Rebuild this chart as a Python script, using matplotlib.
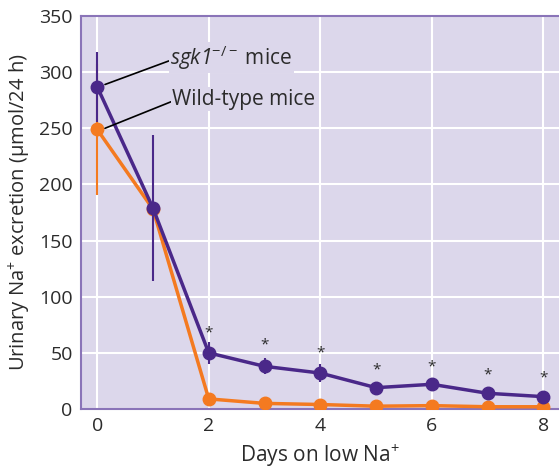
import matplotlib.pyplot as plt
import numpy as np

plt.rcParams['font.family'] = ['Open Sans', 'DejaVu Sans']
plt.rcParams['mathtext.fontset'] = 'custom'
plt.rcParams['mathtext.rm'] = 'Open Sans'
plt.rcParams['mathtext.it'] = 'Open Sans:italic'
plt.rcParams['mathtext.sf'] = 'Open Sans:italic'

days = [0, 1, 2, 3, 4, 5, 6, 7, 8]
sgk1 = [287, 179, 50, 38, 32, 19, 22, 14, 11]
sgk1_err = [31, 65, 10, 7, 8, 3, 3, 2, 2]
wt = [249, 178, 9, 5, 4, 2.5, 3, 2, 2]
wt_err = [58, 3, 1, 1, 1, 1, 1, 1, 1]
star_days = [2, 3, 4, 5, 6, 7, 8]
star_y = [68, 57, 50, 35, 37, 30, 28]

purple = '#4a2889'
orange = '#f47a20'
bg = '#dcd7eb'
spine = '#8a74b8'
txt = '#2b2b2b'

fig = plt.figure(figsize=(5.59, 4.70), dpi=100)
ax = fig.add_axes([81 / 559, 61 / 470, 1 - 81 / 559, 393 / 470])
ax.set_facecolor(bg)

ax.errorbar(days, wt, yerr=wt_err, color=orange, lw=2.5, marker='o', ms=9,
            elinewidth=1.5, capsize=0, zorder=3)
ax.errorbar(days, sgk1, yerr=sgk1_err, color=purple, lw=2.5, marker='o', ms=9,
            elinewidth=1.5, capsize=0, zorder=4)

for d, s in zip(star_days, star_y):
    ax.text(d, s, '*', ha='center', va='center', fontsize=11, color=txt)

ax.set_xlim(-0.29, 8.28)
ax.set_ylim(0, 350)
ax.set_xticks([0, 2, 4, 6, 8])
ax.set_yticks(range(0, 351, 50))
ax.grid(True, color='white', lw=1.5)
ax.set_axisbelow(True)
ax.tick_params(length=0, labelsize=14, colors=txt, pad=6)

for side in ['left', 'bottom', 'top']:
    ax.spines[side].set_color(spine)
    ax.spines[side].set_linewidth(1.5)
ax.spines['right'].set_visible(False)

ax.set_xlabel('Days on low Na$^{+}$', fontsize=15, color=txt, labelpad=5)
ax.set_ylabel('Urinary Na$^{+}$ excretion (µmol/24 h)', fontsize=14.5, color=txt, labelpad=4)

box = dict(facecolor=bg, edgecolor='none', pad=1)
arrow = dict(arrowstyle='-', color='black', lw=1.2, shrinkA=0, shrinkB=0, relpos=(0, 0.4))
ax.annotate('$\\mathsf{sgk1}^{\\mathrm{-/-}}$ mice', xy=(0.14, 289), xytext=(1.31, 313),
            fontsize=15, color=txt, va='center', ha='left', bbox=box,
            arrowprops=arrow, zorder=5)
ax.annotate('Wild-type mice', xy=(0.14, 250), xytext=(1.35, 276),
            fontsize=15, color=txt, va='center', ha='left', bbox=box,
            arrowprops=arrow, zorder=5)

fig.savefig('out.png', dpi=100)
